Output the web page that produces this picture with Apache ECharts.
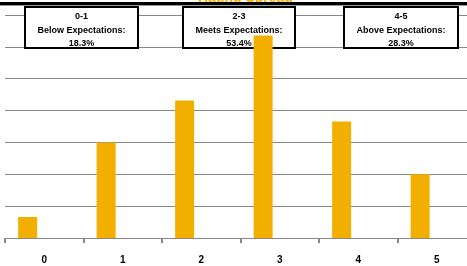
<!doctype html>
<html lang="en">
  <head>
    <meta charset="utf-8">
    <title>Rating Distribution</title>
    <script src="https://cdn.jsdelivr.net/npm/echarts@6.0.0/dist/echarts.min.js"></script>
    <style>
      html, body {
        width: 100%;
        height: 100%;
        margin: 0;
        background: #fff;
      }

      #chart {
        width: 467px;
        height: 266px;
      }
    </style>
  </head>
  <body>
    <div id="chart"></div>
    <script>
      // ratings 0..5, share of employees in %
      const ratings = ['0', '1', '2', '3', '4', '5'];
      const shares = [3.3, 15.0, 21.6, 31.8, 18.3, 10.0];

      const groupRanges = ['0-1', '2-3', '4-5'];
      const groupNames = ['Below Expectations:', 'Meets Expectations:', 'Above Expectations:'];
      const groupShares = ['18.3%', '53.4%', '28.3%'];

      const boxLeft = [24, 182, 343];
      const boxWidths = [113, 112, 114];

      let chart = echarts.init(document.getElementById('chart'), null, {renderer: 'canvas'});

      const textFont = '"Liberation Sans", Arial, sans-serif';

      let boxes = groupRanges.map((range, i) => {
        return {
          type: 'group',
          left: boxLeft[i],
          top: 6,
          z: 1,
          children: [
            {
              type: 'rect',
              shape: { x: 0, y: 0, width: boxWidths[i], height: 41 },
              style: { fill: '#fff', stroke: '#000', lineWidth: 2 },
              z: 1
            },
            {
              type: 'text',
              x: boxWidths[i] / 2,
              y: 3,
              z: 1,
              style: {
                text: range + '\n' + groupNames[i] + '\n' + groupShares[i],
                align: 'center',
                fill: '#000',
                font: 'bold 9px ' + textFont,
                lineHeight: 13.5
              }
            }
          ]
        };
      });

      let option = {
        animation: false,
        grid: {
          left: 5,
          top: 15,
          width: 471,
          bottom: 28,
          outerBoundsMode: 'none',
          containLabel: false
        },
        xAxis: {
          type: 'category',
          data: ratings,
          axisLine: {
            show: true,
            lineStyle: { color: '#888', width: 1 }
          },
          axisTick: {
            show: true,
            length: 5,
            lineStyle: { color: '#888', width: 2 }
          },
          axisLabel: {
            margin: 17,
            color: '#000',
            fontWeight: 'bold',
            fontSize: 10,
            fontFamily: textFont
          }
        },
        yAxis: {
          type: 'value',
          min: 0,
          max: 35,
          interval: 5,
          axisLabel: { show: false },
          axisLine: { show: false },
          axisTick: { show: false },
          splitLine: {
            lineStyle: { color: '#888', width: 1 }
          }
        },
        graphic: [
          {
            type: 'text',
            left: 198,
            top: -9,
            z: 0,
            style: {
              text: 'Rating Spread',
              fill: '#F2AF00',
              font: 'bold 14px ' + textFont
            }
          },
          {
            type: 'rect',
            shape: { x: 0, y: 2, width: 467, height: 3 },
            style: { fill: '#000' },
            z: 0
          },
          {
            type: 'rect',
            shape: { x: 0, y: 5, width: 467, height: 1 },
            style: { fill: '#999' },
            z: 0
          }
        ].concat(boxes),
        series: [
          {
            type: 'bar',
            data: shares,
            barWidth: 19,
            barGap: '75%',
            z: 3,
            itemStyle: { color: '#F2AF00' }
          },
          {
            type: 'bar',
            data: [],
            barWidth: 19
          }
        ]
      };

      chart.setOption(option);
    </script>
  </body>
</html>
